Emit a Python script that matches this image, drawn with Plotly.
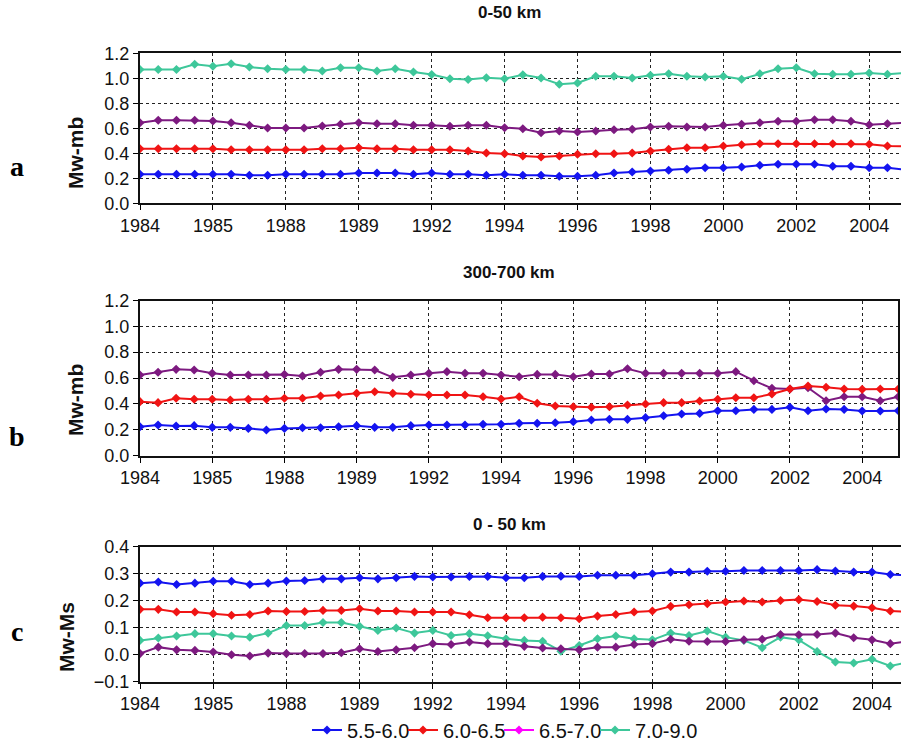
import plotly.graph_objects as go

# ---------------- data ----------------
tick_labels = ["1984", "1985", "1988", "1989", "1992", "1994", "1996", "1998", "2000", "2002", "2004"]
series_names = ["5.5-6.0", "6.0-6.5", "6.5-7.0", "7.0-9.0"]

# Panel a: 0-50 km, Mw-mb
a_55_60 = [0.232, 0.232, 0.232, 0.232, 0.232, 0.232, 0.224, 0.224, 0.232, 0.232, 0.232, 0.232, 0.243, 0.243, 0.243,
           0.232, 0.243, 0.232, 0.232, 0.224, 0.232, 0.224, 0.224, 0.216, 0.216, 0.224, 0.243, 0.251, 0.259, 0.264,
           0.272, 0.285, 0.285, 0.291, 0.304, 0.312, 0.312, 0.312, 0.296, 0.296, 0.285, 0.285, 0.269]
a_60_65 = [0.437, 0.437, 0.437, 0.437, 0.437, 0.429, 0.429, 0.429, 0.429, 0.429, 0.437, 0.437, 0.445, 0.437, 0.437,
           0.429, 0.429, 0.429, 0.419, 0.403, 0.397, 0.379, 0.371, 0.379, 0.392, 0.397, 0.397, 0.403, 0.419, 0.432,
           0.445, 0.445, 0.459, 0.469, 0.477, 0.477, 0.477, 0.477, 0.477, 0.477, 0.472, 0.459, 0.455]
a_65_70 = [0.645, 0.664, 0.664, 0.664, 0.659, 0.645, 0.624, 0.603, 0.603, 0.603, 0.619, 0.632, 0.645, 0.637, 0.637,
           0.624, 0.624, 0.616, 0.624, 0.624, 0.605, 0.597, 0.565, 0.579, 0.571, 0.579, 0.589, 0.592, 0.611, 0.616,
           0.611, 0.611, 0.624, 0.632, 0.645, 0.656, 0.656, 0.669, 0.669, 0.656, 0.629, 0.637, 0.643]
a_70_90 = [1.070, 1.070, 1.070, 1.112, 1.096, 1.117, 1.090, 1.077, 1.070, 1.070, 1.059, 1.085, 1.085, 1.059, 1.077,
           1.050, 1.030, 0.997, 0.990, 1.005, 0.997, 1.029, 1.003, 0.952, 0.963, 1.016, 1.016, 1.003, 1.024, 1.037,
           1.016, 1.011, 1.016, 0.992, 1.037, 1.077, 1.085, 1.037, 1.032, 1.032, 1.043, 1.032, 1.043]

# Panel b: 300-700 km, Mw-mb
b_55_60 = [0.223, 0.236, 0.228, 0.231, 0.218, 0.218, 0.210, 0.197, 0.210, 0.215, 0.215, 0.223, 0.231, 0.218, 0.218,
           0.231, 0.236, 0.236, 0.236, 0.241, 0.241, 0.249, 0.249, 0.254, 0.262, 0.275, 0.280, 0.280, 0.293, 0.308,
           0.321, 0.326, 0.347, 0.347, 0.357, 0.357, 0.373, 0.347, 0.360, 0.357, 0.344, 0.344, 0.347]
b_60_65 = [0.417, 0.409, 0.443, 0.435, 0.435, 0.430, 0.435, 0.435, 0.443, 0.443, 0.461, 0.468, 0.481, 0.494, 0.481,
           0.474, 0.468, 0.468, 0.468, 0.455, 0.437, 0.455, 0.404, 0.383, 0.378, 0.373, 0.378, 0.391, 0.399, 0.409,
           0.409, 0.422, 0.435, 0.447, 0.447, 0.476, 0.515, 0.538, 0.528, 0.515, 0.512, 0.515, 0.515]
b_65_70 = [0.623, 0.644, 0.667, 0.662, 0.636, 0.623, 0.623, 0.623, 0.628, 0.615, 0.644, 0.667, 0.667, 0.662, 0.605,
           0.623, 0.636, 0.649, 0.636, 0.636, 0.623, 0.610, 0.628, 0.628, 0.610, 0.631, 0.631, 0.672, 0.636, 0.636,
           0.636, 0.636, 0.636, 0.649, 0.579, 0.520, 0.515, 0.525, 0.424, 0.455, 0.455, 0.424, 0.455]

# Panel c: 0-50 km, Mw-Ms
c_55_60 = [0.265, 0.269, 0.260, 0.265, 0.272, 0.272, 0.260, 0.265, 0.273, 0.275, 0.281, 0.281, 0.285, 0.281, 0.285,
           0.290, 0.288, 0.288, 0.290, 0.290, 0.285, 0.285, 0.290, 0.291, 0.290, 0.294, 0.294, 0.294, 0.300, 0.306,
           0.306, 0.309, 0.309, 0.312, 0.312, 0.312, 0.312, 0.315, 0.310, 0.306, 0.306, 0.297, 0.294]
c_60_65 = [0.168, 0.168, 0.158, 0.158, 0.152, 0.146, 0.149, 0.162, 0.160, 0.160, 0.164, 0.164, 0.170, 0.162, 0.162,
           0.158, 0.158, 0.158, 0.148, 0.137, 0.137, 0.137, 0.139, 0.137, 0.133, 0.143, 0.149, 0.158, 0.162, 0.179,
           0.185, 0.189, 0.195, 0.199, 0.195, 0.201, 0.204, 0.197, 0.183, 0.180, 0.174, 0.162, 0.158]
c_65_70 = [0.004, 0.028, 0.018, 0.016, 0.010, 0.000, -0.005, 0.006, 0.004, 0.004, 0.004, 0.007, 0.022, 0.012, 0.018,
           0.026, 0.041, 0.038, 0.047, 0.041, 0.041, 0.031, 0.025, 0.022, 0.018, 0.028, 0.028, 0.038, 0.041, 0.057,
           0.050, 0.049, 0.049, 0.055, 0.057, 0.075, 0.074, 0.075, 0.080, 0.063, 0.055, 0.041, 0.050]
c_70_90 = [0.053, 0.062, 0.069, 0.078, 0.078, 0.069, 0.065, 0.080, 0.108, 0.108, 0.119, 0.119, 0.105, 0.090, 0.099,
           0.080, 0.090, 0.071, 0.078, 0.070, 0.059, 0.053, 0.050, 0.013, 0.034, 0.059, 0.069, 0.059, 0.055, 0.080,
           0.071, 0.088, 0.065, 0.053, 0.026, 0.065, 0.055, 0.012, -0.027, -0.031, -0.017, -0.042, -0.027]

# ---------------- style ----------------
W, H = 901, 749
FONT = "Liberation Sans, Arial, sans-serif"
BLUE = "#1414f0"
RED = "#f01414"
PURPLE = "#7d1a80"
MAGENTA = "#ff00ff"
GREEN = "#3ec79a"


def px(p):
    return p / W


def py(p):
    return 1 - p / H


tick_idx = [i * 4 for i in range(len(tick_labels))]

fig = go.Figure()


def add_line(y, color, xa, ya, name, legend=False):
    fig.add_trace(go.Scatter(
        x=list(range(len(y))), y=y, mode="lines+markers", name=name,
        line=dict(color=color, width=2),
        marker=dict(symbol="diamond", size=7, color=color),
        xaxis=xa, yaxis=ya, showlegend=legend, cliponaxis=True,
    ))


# panel a
add_line(a_70_90, GREEN, "x", "y", series_names[3])
add_line(a_65_70, PURPLE, "x", "y", series_names[2])
add_line(a_60_65, RED, "x", "y", series_names[1])
add_line(a_55_60, BLUE, "x", "y", series_names[0])
# panel b
add_line(b_65_70, PURPLE, "x2", "y2", series_names[2])
add_line(b_60_65, RED, "x2", "y2", series_names[1])
add_line(b_55_60, BLUE, "x2", "y2", series_names[0])
# panel c
add_line(c_70_90, GREEN, "x3", "y3", series_names[3])
add_line(c_65_70, PURPLE, "x3", "y3", series_names[2])
add_line(c_60_65, RED, "x3", "y3", series_names[1])
add_line(c_55_60, BLUE, "x3", "y3", series_names[0])

# legend entries
for nm, col in zip(series_names, [BLUE, RED, MAGENTA, GREEN]):
    fig.add_trace(go.Scatter(
        x=[None], y=[None], mode="lines+markers", name=nm,
        line=dict(color=col, width=2), marker=dict(symbol="diamond", size=7, color=col),
        xaxis="x3", yaxis="y3", showlegend=True,
    ))

GRID = dict(showgrid=True, gridcolor="#222222", griddash="dot", gridwidth=1, zeroline=False)


def xax(dom, rng, anchor):
    return dict(domain=dom, range=rng, anchor=anchor, tickmode="array", tickvals=tick_idx,
                ticktext=tick_labels, ticks="outside", ticklen=5, tickcolor="#000",
                showline=True, linecolor="#111", linewidth=2, mirror=True, automargin=False,
                tickfont=dict(family=FONT, size=18, color="#111"), **GRID)


def yax(dom, rng, dt, anchor, mirror):
    return dict(domain=dom, range=rng, dtick=dt, tick0=0, anchor=anchor, tickformat=".1f",
                ticks="outside", ticklen=5, tickcolor="#000", automargin=False,
                showline=True, linecolor="#111", linewidth=2, mirror=mirror,
                tickfont=dict(family=FONT, size=18, color="#111"), **GRID)


x0 = px(140)
fig.update_layout(
    width=W, height=H,
    margin=dict(l=0, r=0, t=0, b=0, pad=0, autoexpand=False),
    paper_bgcolor="white", plot_bgcolor="white",
    xaxis=xax([x0, 1.0], [0, (W - 140) / 18.23], "y"),
    yaxis=yax([py(203.3), py(53.3)], [0, 1.2], 0.2, "x", False),
    xaxis2=xax([x0, px(898.3)], [0, 42.0], "y2"),
    yaxis2=yax([py(455.5), py(300.5)], [0, 1.2], 0.2, "x2", True),
    xaxis3=xax([x0, 1.0], [0, (W - 140) / 18.3], "y3"),
    yaxis3=yax([py(681.7), py(546.7)], [-0.1, 0.4], 0.1, "x3", False),
    showlegend=True,
    legend=dict(orientation="h", x=px(499), xanchor="center", y=py(730), yanchor="middle",
                font=dict(family=FONT, size=20, color="#111"), itemwidth=30,
                entrywidth=51, entrywidthmode="pixels",
                bgcolor="rgba(0,0,0,0)", traceorder="normal"),
)

annots = []
for txt, y in [("0-50 km", 13), ("300-700 km", 272), ("0 - 50 km", 524)]:
    annots.append(dict(text=f"<b>{txt}</b>", x=px(509), y=py(y), xref="paper", yref="paper",
                       showarrow=False, xanchor="center", yanchor="middle",
                       font=dict(family=FONT, size=17, color="#111")))
for txt, x, y in [("Mw-mb", 75, 153), ("Mw-mb", 75, 400), ("Mw-Ms", 66, 637)]:
    annots.append(dict(text=f"<b>{txt}</b>", x=px(x), y=py(y), xref="paper", yref="paper",
                       showarrow=False, xanchor="center", yanchor="middle", textangle=-90,
                       font=dict(family=FONT, size=21, color="#111")))
for txt, y in [("a", 166), ("b", 436), ("c", 631)]:
    annots.append(dict(text=f"<b>{txt}</b>", x=px(17), y=py(y), xref="paper", yref="paper",
                       showarrow=False, xanchor="center", yanchor="middle",
                       font=dict(family="Liberation Serif, Times New Roman, serif", size=28, color="#000")))
fig.update_layout(annotations=annots)

fig.write_html(
    "out.html",
    config={"displayModeBar": False},
    post_script=(
        "document.body.style.margin='0';document.body.style.overflow='hidden';"
        "document.querySelectorAll('.legend [clip-path], .legend[clip-path]')"
        ".forEach(function(e){e.removeAttribute('clip-path');});"
    ),
)
